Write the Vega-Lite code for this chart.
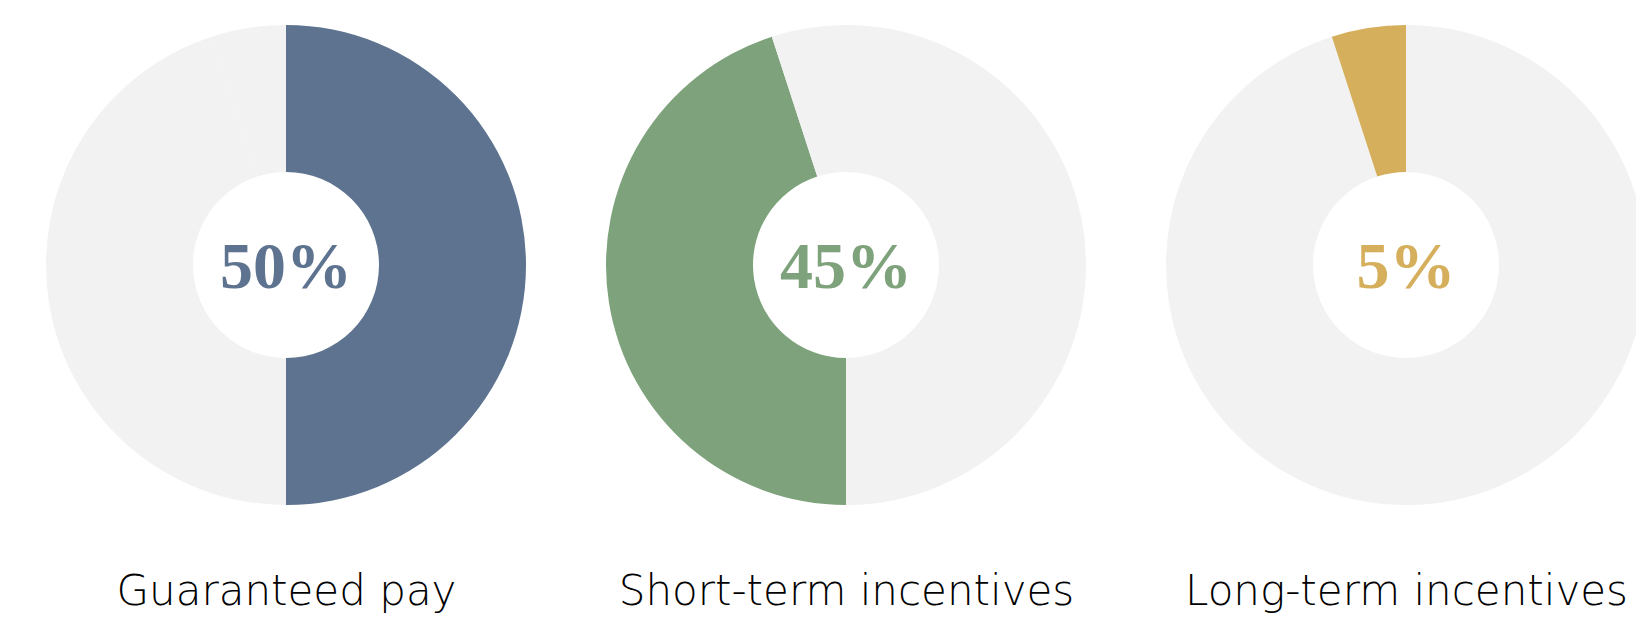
{
  "$schema": "https://vega.github.io/schema/vega-lite/v6.json",
  "width": 1636,
  "height": 530,
  "autosize": {"type": "none"},
  "padding": {"left": 0, "top": 0, "right": 0, "bottom": 92},
  "background": "#ffffff",
  "config": {"view": {"stroke": null}},
  "data": {
    "values": [
      {"panel": "Guaranteed pay", "segment": "Guaranteed pay", "order": 1, "value": 50},
      {"panel": "Guaranteed pay", "segment": "Short-term incentives", "order": 2, "value": 45},
      {"panel": "Guaranteed pay", "segment": "Long-term incentives", "order": 3, "value": 5},
      {"panel": "Short-term incentives", "segment": "Guaranteed pay", "order": 1, "value": 50},
      {"panel": "Short-term incentives", "segment": "Short-term incentives", "order": 2, "value": 45},
      {"panel": "Short-term incentives", "segment": "Long-term incentives", "order": 3, "value": 5},
      {"panel": "Long-term incentives", "segment": "Guaranteed pay", "order": 1, "value": 50},
      {"panel": "Long-term incentives", "segment": "Short-term incentives", "order": 2, "value": 45},
      {"panel": "Long-term incentives", "segment": "Long-term incentives", "order": 3, "value": 5}
    ]
  },
  "transform": [
    {"calculate": "datum.segment === datum.panel ? datum.segment : 'Other'", "as": "hl"},
    {"stack": "value", "groupby": ["panel"], "sort": [{"field": "order", "order": "ascending"}], "as": ["v0", "v1"]}
  ],
  "encoding": {
    "x": {
      "field": "panel",
      "type": "nominal",
      "sort": ["Guaranteed pay", "Short-term incentives", "Long-term incentives"],
      "scale": {"type": "point", "range": [286, 1406], "padding": 0},
      "axis": {
        "title": null,
        "domain": false,
        "ticks": false,
        "tickSize": 0,
        "grid": false,
        "labelFont": "DejaVu Sans",
        "labelFontWeight": 200,
        "labelFontSize": 42,
        "labelLimit": 0,
        "labelColor": "#000000",
        "labelBaseline": "alphabetic",
        "labelPadding": 74,
        "labelAngle": 0,
        "labelOverlap": false,
        "labelBound": false,
        "labelFlush": false
      }
    },
    "color": {
      "field": "hl",
      "type": "nominal",
      "scale": {
        "domain": ["Guaranteed pay", "Short-term incentives", "Long-term incentives", "Other"],
        "range": ["#5d738f", "#7ea27b", "#d5af5c", "#f2f2f2"]
      },
      "legend": null
    }
  },
  "layer": [
    {
      "mark": {"type": "arc", "outerRadius": 240, "innerRadius": 93, "strokeWidth": 0},
      "encoding": {
        "theta": {"field": "v0", "type": "quantitative", "scale": {"domain": [0, 100]}, "stack": null},
        "theta2": {"field": "v1"}
      }
    },
    {
      "transform": [
        {"filter": "datum.segment === datum.panel"},
        {"calculate": "datum.value + '%'", "as": "pct"}
      ],
      "mark": {"type": "text", "font": "Liberation Serif", "fontWeight": 700, "fontSize": 66, "baseline": "alphabetic", "align": "center", "dy": 23},
      "encoding": {
        "text": {"field": "pct", "type": "nominal"}
      }
    }
  ]
}
